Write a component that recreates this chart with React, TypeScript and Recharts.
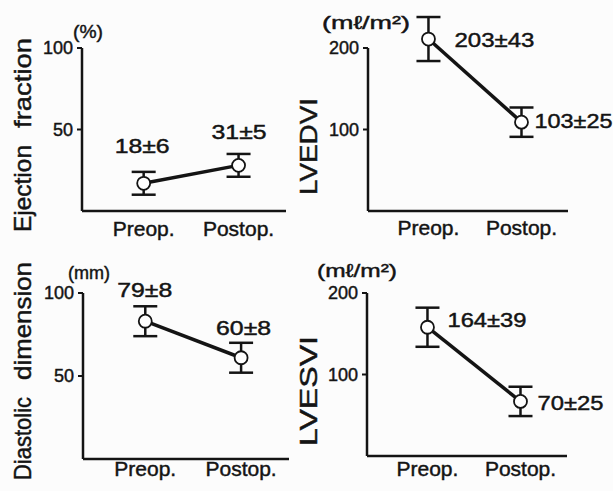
import React from 'react';
import { LineChart, Line, XAxis, YAxis, ErrorBar, LabelList, ReferenceLine } from 'recharts';

// ---------- data ----------
const categories = ['Preop.', 'Postop.'];
const positions = [1, 2];

const efMean = [17, 28];
const efErr = [7, 7];
const efLabels = ['18±6', '31±5'];
const efTicks = [50, 100];

const lvedviMean = [211, 109];
const lvedviErr = [27, 18];
const lvedviLabels = ['203±43', '103±25'];
const lvedviTicks = [100, 200];

const ddMean = [83, 61];
const ddErr = [9, 9];
const ddLabels = ['79±8', '60±8'];
const ddTicks = [50, 100];

const lvesviMean = [158, 67];
const lvesviErr = [24, 18];
const lvesviLabels = ['164±39', '70±25'];
const lvesviTicks = [100, 200];

// ---------- style ----------
const FONT = '"Liberation Sans", Arial, Helvetica, sans-serif';
const INK = '#141414';
const TXT_STROKE = 0.45;

type Word = { text: string; x: number; y: number; len: number; size: number; rotate?: boolean };
type Ann = { anchor: 'start' | 'middle'; dx: number; dy: number; len: number };

type Cfg = {
  left: number; top: number; width: number; height: number;
  margin: { top: number; right: number; bottom: number; left: number };
  yMax: number; axisTop: number; ticks: number[];
  mean: number[]; err: number[]; labels: string[];
  xTickMargin: number;
  words: Word[];
  ann: Ann[];
};

const panels: Cfg[] = [
  {
    left: 0, top: 0, width: 300, height: 250,
    margin: { top: 48, right: 14, bottom: 9, left: 42 },
    yMax: 100, axisTop: 100, ticks: efTicks,
    mean: efMean, err: efErr, labels: efLabels, xTickMargin: 4,
    words: [
      { text: 'Ejection', x: 31, y: 188.5, len: 87, size: 24, rotate: true },
      { text: 'fraction', x: 31, y: 83, len: 90, size: 24, rotate: true },
      { text: '(%)', x: 88, y: 38, len: 30, size: 19 },
    ],
    ann: [
      { anchor: 'middle', dx: -1.5, dy: -30, len: 55 },
      { anchor: 'middle', dx: 0.5, dy: -26, len: 55 },
    ],
  },
  {
    left: 290, top: 0, width: 323, height: 250,
    margin: { top: 7.25, right: 45, bottom: 9, left: 38 },
    yMax: 250, axisTop: 200, ticks: lvedviTicks,
    mean: lvedviMean, err: lvedviErr, labels: lvedviLabels, xTickMargin: 3,
    words: [
      { text: 'LVEDVI', x: 27, y: 146.5, len: 97, size: 24, rotate: true },
      { text: '(mℓ/m²)', x: 76, y: 29, len: 88, size: 19 },
    ],
    ann: [
      { anchor: 'start', dx: 26, dy: 8, len: 80 },
      { anchor: 'start', dx: 13, dy: 6, len: 78 },
    ],
  },
  {
    left: 0, top: 250, width: 300, height: 241,
    margin: { top: 43, right: 11, bottom: 2, left: 43 },
    yMax: 100, axisTop: 100, ticks: ddTicks,
    mean: ddMean, err: ddErr, labels: ddLabels, xTickMargin: -4,
    words: [
      { text: 'Diastolic', x: 31, y: 188.5, len: 83, size: 24, rotate: true },
      { text: 'dimension', x: 31, y: 71, len: 118, size: 24, rotate: true },
      { text: '(mm)', x: 89, y: 29, len: 42, size: 19 },
    ],
    ann: [
      { anchor: 'middle', dx: -0.5, dy: -24, len: 55 },
      { anchor: 'middle', dx: 2.5, dy: -23, len: 55 },
    ],
  },
  {
    left: 290, top: 250, width: 323, height: 241,
    margin: { top: 43, right: 46, bottom: 5, left: 37 },
    yMax: 200, axisTop: 200, ticks: lvesviTicks,
    mean: lvesviMean, err: lvesviErr, labels: lvesviLabels, xTickMargin: -1,
    words: [
      { text: 'LVESVI', x: 27, y: 141, len: 110, size: 24, rotate: true },
      { text: '(mℓ/m²)', x: 67, y: 27, len: 80, size: 19 },
    ],
    ann: [
      { anchor: 'start', dx: 20, dy: 0, len: 79 },
      { anchor: 'start', dx: 17, dy: 9, len: 66 },
    ],
  },
];

function PanelText({ words }: { words: Word[] }) {
  return (
    <g>
      {words.map((w, i) => (
        <text
          key={i}
          x={w.x}
          y={w.y}
          textAnchor="middle"
          fontFamily={FONT}
          fontSize={w.size}
          fill={INK}
          stroke={INK}
          strokeWidth={TXT_STROKE}
          textLength={w.len}
          lengthAdjust="spacingAndGlyphs"
          transform={w.rotate ? `rotate(-90 ${w.x} ${w.y})` : undefined}
        >
          {w.text}
        </text>
      ))}
    </g>
  );
}

function Panel({ cfg }: { cfg: Cfg }) {
  const data = positions.map((p, i) => ({ x: p, mean: cfg.mean[i], err: cfg.err[i], label: cfg.labels[i] }));
  const xDomain: [number, number] = [0.35, 2.5];
  const renderAnn = (props: any) => {
    const { x, y, index } = props;
    const a = cfg.ann[index];
    if (!a) return null;
    return (
      <text
        x={x + a.dx}
        y={y + a.dy}
        textAnchor={a.anchor}
        fontFamily={FONT}
        fontSize={20}
        fill={INK}
        stroke={INK}
        strokeWidth={TXT_STROKE}
        textLength={a.len}
        lengthAdjust="spacingAndGlyphs"
      >
        {cfg.labels[index]}
      </text>
    );
  };
  return (
    <div style={{ position: 'absolute', left: cfg.left, top: cfg.top }}>
      <LineChart width={cfg.width} height={cfg.height} data={data} margin={cfg.margin}>
        <XAxis
          dataKey="x"
          type="number"
          domain={xDomain}
          ticks={positions}
          interval={0}
          tickFormatter={(v: number) => categories[positions.indexOf(v)]}
          tickLine={false}
          tickSize={6}
          tickMargin={cfg.xTickMargin}
          axisLine={{ stroke: INK, strokeWidth: 2.5 }}
          tick={{ fill: INK, fontSize: 21, fontFamily: FONT, stroke: INK, strokeWidth: TXT_STROKE }}
          height={30}
        />
        <YAxis
          type="number"
          domain={[0, cfg.yMax]}
          ticks={cfg.ticks}
          interval={0}
          axisLine={false}
          tickLine={{ stroke: INK, strokeWidth: 2 }}
          tickSize={5}
          tickMargin={4}
          tick={{ fill: INK, fontSize: 18, fontFamily: FONT, stroke: INK, strokeWidth: TXT_STROKE }}
          width={40}
          label={<PanelText words={cfg.words} />}
        />
        <ReferenceLine
          segment={[{ x: xDomain[0], y: 0 }, { x: xDomain[0], y: cfg.axisTop }]}
          stroke={INK}
          strokeWidth={2.5}
          ifOverflow="visible"
        />
        <Line
          dataKey="mean"
          stroke={INK}
          strokeWidth={3.5}
          dot={{ r: 6.5, fill: '#ffffff', stroke: INK, strokeWidth: 1.8 }}
          activeDot={false}
          isAnimationActive={false}
        >
          <ErrorBar dataKey="err" width={12} strokeWidth={2.5} stroke={INK} direction="y" />
          <LabelList dataKey="label" content={renderAnn} />
        </Line>
      </LineChart>
    </div>
  );
}

export default function App() {
  return (
    <div style={{ position: 'absolute', left: 0, top: 0, width: 613, height: 491, background: '#fcfcfc', overflow: 'hidden' }}>
      {panels.map((cfg, i) => (
        <Panel key={i} cfg={cfg} />
      ))}
    </div>
  );
}
